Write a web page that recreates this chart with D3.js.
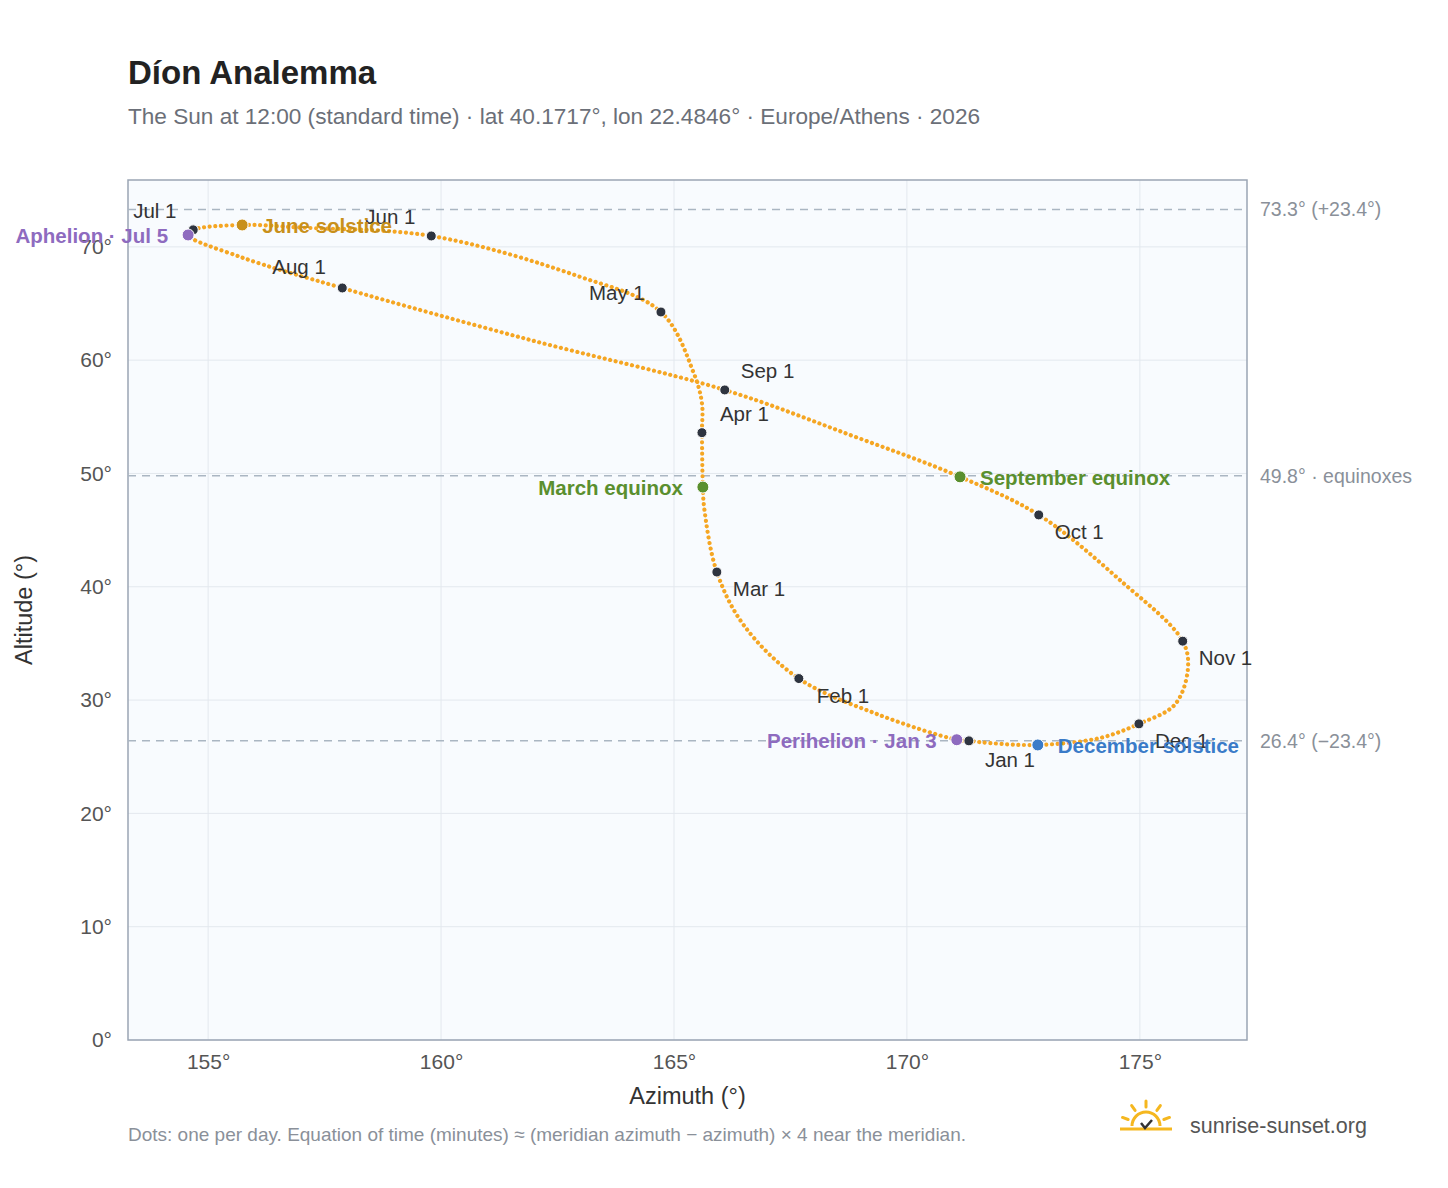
<!DOCTYPE html>
<html><head><meta charset="utf-8">
<script src="https://cdn.jsdelivr.net/npm/d3@7"></script>
<style>body{margin:0;background:#fff;font-family:"Liberation Sans",Arial,sans-serif}</style>
</head><body><svg id="c" width="1448" height="1188"></svg>
<script>
// Path samples, ordered through the year
const pathDates = ["Jan 1","Jan 3","Jan 15","Feb 1","Feb 15","Mar 1","Mar 15","Mar 20","Apr 1","Apr 8","Apr 15","May 1","May 15","Jun 1","Jun 15","Jun 21","Jul 1","Jul 5","Jul 15","Aug 1","Aug 15","Sep 1","Sep 15","Sep 23","Oct 1","Oct 15","Nov 1","Nov 10","Nov 20","Dec 1","Dec 15","Dec 21","Dec 28"];
const pathAz  = [171.33,171.07,169.4,167.68,166.5,165.92,165.65,165.62,165.6,165.6,165.42,164.72,162.88,159.79,157.0,155.73,154.68,154.57,155.7,157.88,161.9,166.09,168.78,171.14,172.83,174.57,175.92,176.03,175.75,174.98,174.14,172.81,171.8];
const pathAlt = [26.4,26.5,28.7,31.9,36.6,41.3,46.9,48.8,53.6,56.2,58.9,64.25,67.5,70.96,71.7,71.93,71.5,71.05,69.1,66.37,61.8,57.37,53.4,49.7,46.34,40.6,35.2,32.7,29.6,27.9,26.65,26.04,26.2];
// Month markers
const months   = ["Jan 1","Feb 1","Mar 1","Apr 1","May 1","Jun 1","Jul 1","Aug 1","Sep 1","Oct 1","Nov 1","Dec 1"];
const monthAz  = [171.33,167.68,165.92,165.6,164.72,159.79,154.68,157.88,166.09,172.83,175.92,174.98];
const monthAlt = [26.4,31.9,41.3,53.6,64.25,70.96,71.5,66.37,57.37,46.34,35.2,27.9];
// Events
const events   = ["Aphelion · Jul 5","June solstice","March equinox","September equinox","Perihelion · Jan 3","December solstice"];
const eventAz  = [154.57,155.73,165.62,171.14,171.07,172.81];
const eventAlt = [71.05,71.93,48.8,49.7,26.5,26.04];
const eventColor = ["#8e6bbf","#c8901a","#5a8f2e","#5a8f2e","#8e6bbf","#3a7bc8"];
// Reference lines
const refAlt = [73.3,49.8,26.4];
const refLabels = ["73.3° (+23.4°)","49.8° · equinoxes","26.4° (−23.4°)"];
const xTicks = [155,160,165,170,175];
const yTicks = [0,10,20,30,40,50,60,70];

const svg = d3.select("#c");
const L=128,R=1247,T=180,B=1040;
const x = d3.scaleLinear().domain([153.28,177.3]).range([L,R]);
const y = d3.scaleLinear().domain([0,75.9]).range([B,T]);

svg.append("text").attr("x",128).attr("y",84).attr("font-size",33).attr("font-weight","bold").attr("fill","#222").text("Díon Analemma");
svg.append("text").attr("x",128).attr("y",124).attr("font-size",22.6).attr("fill","#6b6f78").text("The Sun at 12:00 (standard time) · lat 40.1717°, lon 22.4846° · Europe/Athens · 2026");

svg.append("rect").attr("x",L).attr("y",T).attr("width",R-L).attr("height",B-T).attr("fill","#f8fbfe");
const g=svg.append("g");
xTicks.forEach(t=>g.append("line").attr("x1",x(t)).attr("x2",x(t)).attr("y1",T).attr("y2",B).attr("stroke","#e3e8ee"));
yTicks.forEach(t=>g.append("line").attr("x1",L).attr("x2",R).attr("y1",y(t)).attr("y2",y(t)).attr("stroke","#e3e8ee"));
svg.append("rect").attr("x",L).attr("y",T).attr("width",R-L).attr("height",B-T).attr("fill","none").attr("stroke","#9aa5b4").attr("stroke-width",1.5);

const xa=svg.append("g").attr("transform",`translate(0,${B})`).call(d3.axisBottom(x).tickValues(xTicks).tickFormat(d=>d+"°").tickSize(0).tickPadding(14));
const ya=svg.append("g").attr("transform",`translate(${L},0)`).call(d3.axisLeft(y).tickValues(yTicks).tickFormat(d=>d+"°").tickSize(0).tickPadding(16));
[xa,ya].forEach(a=>{a.select(".domain").remove();a.selectAll("text").attr("font-size",21).attr("fill","#555").attr("font-family","Liberation Sans,Arial");});
svg.append("text").attr("x",(L+R)/2).attr("y",1104).attr("text-anchor","middle").attr("font-size",23.5).attr("fill","#333").text("Azimuth (°)");
svg.append("text").attr("transform",`translate(32,${(T+B)/2}) rotate(-90)`).attr("text-anchor","middle").attr("font-size",23.5).attr("fill","#333").text("Altitude (°)");

refAlt.forEach((a,i)=>{
  svg.append("line").attr("x1",L).attr("x2",R).attr("y1",y(a)).attr("y2",y(a)).attr("stroke","#aab6c2").attr("stroke-width",1.5).attr("stroke-dasharray","8 6");
  svg.append("text").attr("x",1260).attr("y",y(a)+7).attr("font-size",19.5).attr("fill","#8a9099").text(refLabels[i]);
});

const pts = pathAz.map((a,i)=>[x(a),y(pathAlt[i])]);
svg.append("path").attr("d",d3.line().curve(d3.curveCatmullRomClosed.alpha(0.5))(pts))
  .attr("fill","none").attr("stroke","#f5a623").attr("stroke-width",4.2).attr("stroke-linecap","round").attr("stroke-dasharray","0.01 5.6");

const mOff=[[16,26],[18,24],[16,24],[18,-12],[-72,-12],[-66,-12],[-60,-12],[-70,-14],[16,-12],[16,24],[16,24],[16,24]];
months.forEach((m,i)=>{
  const px=x(monthAz[i]),py=y(monthAlt[i]);
  svg.append("circle").attr("cx",px).attr("cy",py).attr("r",5).attr("fill","#2e3440").attr("stroke","#fff").attr("stroke-width",1);
  svg.append("text").attr("x",px+mOff[i][0]).attr("y",py+mOff[i][1]).attr("font-size",20.5).attr("fill","#333").text(m);
});
const eOff=[[-20,8,"end"],[20,8,"start"],[-20,8,"end"],[20,8,"start"],[-20,8,"end"],[20,8,"start"]];
events.forEach((e,i)=>{
  const px=x(eventAz[i]),py=y(eventAlt[i]);
  svg.append("circle").attr("cx",px).attr("cy",py).attr("r",6).attr("fill",eventColor[i]).attr("stroke","#fff").attr("stroke-width",1);
  svg.append("text").attr("x",px+eOff[i][0]).attr("y",py+eOff[i][1]).attr("text-anchor",eOff[i][2]).attr("font-size",20.5).attr("font-weight","bold").attr("fill",eventColor[i]).text(e);
});

svg.append("text").attr("x",128).attr("y",1141).attr("font-size",19).attr("fill","#8a9099").text("Dots: one per day. Equation of time (minutes) ≈ (meridian azimuth − azimuth) × 4 near the meridian.");
// logo
const lg=svg.append("g").attr("transform","translate(1146,1126)");
lg.append("path").attr("d","M-14,0 A14,14 0 0,1 14,0").attr("fill","none").attr("stroke","#f5b71f").attr("stroke-width",3);
[-160,-125,-90,-55,-20].forEach(a=>{const r=a*Math.PI/180;lg.append("line").attr("x1",19*Math.cos(r)).attr("y1",19*Math.sin(r)).attr("x2",25*Math.cos(r)).attr("y2",25*Math.sin(r)).attr("stroke","#f5b71f").attr("stroke-width",3).attr("stroke-linecap","round");});
lg.append("line").attr("x1",-26).attr("x2",26).attr("y1",3).attr("y2",3).attr("stroke","#f5b71f").attr("stroke-width",3);
lg.append("path").attr("d","M-5,-3 L-1,2 L6,-6").attr("fill","none").attr("stroke","#333").attr("stroke-width",2.5);
svg.append("text").attr("x",1190).attr("y",1133).attr("font-size",21.5).attr("fill","#555").text("sunrise-sunset.org");
</script></body></html>
